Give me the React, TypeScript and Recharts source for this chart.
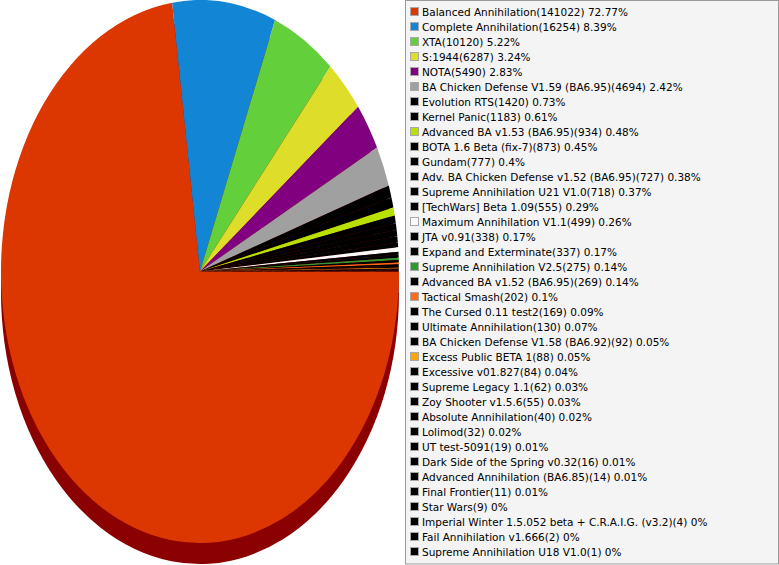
import React from "react";
import { PieChart, Pie, Cell, Legend } from "recharts";

const NAMES = [
  "Balanced Annihilation",
  "Complete Annihilation",
  "XTA",
  "S:1944",
  "NOTA",
  "BA Chicken Defense V1.59 (BA6.95)",
  "Evolution RTS",
  "Kernel Panic",
  "Advanced BA v1.53 (BA6.95)",
  "BOTA 1.6 Beta (fix-7)",
  "Gundam",
  "Adv. BA Chicken Defense v1.52 (BA6.95)",
  "Supreme Annihilation U21 V1.0",
  "[TechWars] Beta 1.09",
  "Maximum Annihilation V1.1",
  "JTA v0.91",
  "Expand and Exterminate",
  "Supreme Annihilation V2.5",
  "Advanced BA v1.52 (BA6.95)",
  "Tactical Smash",
  "The Cursed 0.11 test2",
  "Ultimate Annihilation",
  "BA Chicken Defense V1.58 (BA6.92)",
  "Excess Public BETA 1",
  "Excessive v01.827",
  "Supreme Legacy 1.1",
  "Zoy Shooter v1.5.6",
  "Absolute Annihilation",
  "Lolimod",
  "UT test-5091",
  "Dark Side of the Spring v0.32",
  "Advanced Annihilation (BA6.85)",
  "Final Frontier",
  "Star Wars",
  "Imperial Winter 1.5.052 beta + C.R.A.I.G. (v3.2)",
  "Fail Annihilation v1.666",
  "Supreme Annihilation U18 V1.0",
];

const COUNTS = [
  141022, 16254, 10120, 6287, 5490, 4694, 1420, 1183, 934, 873, 777, 727, 718,
  555, 499, 338, 337, 275, 269, 202, 169, 130, 92, 88, 84, 62, 55, 40, 32, 19,
  16, 14, 11, 9, 4, 2, 1,
];

const PERCENTS = [
  "72.77", "8.39", "5.22", "3.24", "2.83", "2.42", "0.73", "0.61", "0.48",
  "0.45", "0.4", "0.38", "0.37", "0.29", "0.26", "0.17", "0.17", "0.14", "0.14",
  "0.1", "0.09", "0.07", "0.05", "0.05", "0.04", "0.03", "0.03", "0.02", "0.02",
  "0.01", "0.01", "0.01", "0.01", "0", "0", "0", "0",
];

const COLORS = [
  "#DC3700", "#1385D5", "#62CF3B", "#DEDE2A", "#800080", "#A0A0A0", "#000000",
  "#000000", "#B8E000", "#000000", "#000000", "#000000", "#000000", "#000000",
  "#FAFAFA", "#000000", "#000000", "#2E9A2E", "#000000", "#FF6A13", "#000000",
  "#000000", "#000000", "#FFA500", "#000000", "#000000", "#000000", "#000000",
  "#000000", "#000000", "#000000", "#000000", "#000000", "#000000", "#000000",
  "#000000", "#000000",
];

const SHADOW_COLOR = "#8B0000";

const data = NAMES.map((name, i) => ({ name, value: COUNTS[i] }));

const W = 779;
const H = 565;
const CX = 200;
const CY = 271.5;
const RX = 199;
const RY = 271.5;
const SCALE = RY / RX;
const DEPTH = 21;

const LEG_LEFT = 405;
const LEG_W = 374;
const LEG_H = 565;

function LegendBox(props: any) {
  const payload: any[] = props && props.payload ? props.payload : [];
  const seen = new Set<number>();
  payload.forEach((p: any) => {
    const idx = NAMES.indexOf(String(p.value));
    if (idx >= 0) seen.add(idx);
  });
  const order: number[] = seen.size
    ? Array.from(seen).sort((a, b) => a - b)
    : NAMES.map((_, i) => i);
  return (
    <svg width={LEG_W} height={LEG_H} style={{ display: "block" }}>
      <rect
        x={0.5}
        y={0.5}
        width={LEG_W - 1}
        height={LEG_H - 1.5}
        fill="#F4F4F4"
        stroke="#9A9A9A"
        strokeWidth={1}
      />
      {order.map((idx, k) => (
        <g key={idx}>
          <rect
            x={5.5}
            y={7.5 + 15 * k}
            width={8}
            height={8}
            fill={COLORS[idx]}
            stroke="#A8A8A8"
            strokeWidth={1}
          />
          <text
            x={17}
            y={16 + 15 * k}
            fontFamily="'DejaVu Sans', sans-serif"
            fontSize={10.5}
            fill="#000"
          >
            {`${NAMES[idx]}(${COUNTS[idx]}) ${PERCENTS[idx]}%`}
          </text>
        </g>
      ))}
    </svg>
  );
}

export default function App() {
  return (
    <div
      className="ell-chart"
      style={{
        position: "absolute",
        left: 0,
        top: 0,
        width: W,
        height: H,
        overflow: "hidden",
        background: "#ffffff",
      }}
    >
      <style>{`.ell-chart .recharts-wrapper > svg.recharts-surface{transform:scaleY(${SCALE});transform-origin:${CX}px ${CY}px;}`}</style>
      <PieChart width={W} height={H} margin={{ top: 0, right: 0, bottom: 0, left: 0 }}>
        <Pie
          data={data}
          dataKey="value"
          nameKey="name"
          cx={CX}
          cy={CY + DEPTH / SCALE}
          outerRadius={RX}
          startAngle={0}
          endAngle={-360}
          stroke="none"
          legendType="none"
          isAnimationActive={false}
        >
          {data.map((d, i) => (
            <Cell key={`s-${i}`} fill={SHADOW_COLOR} />
          ))}
        </Pie>
        <Pie
          data={data}
          dataKey="value"
          nameKey="name"
          cx={CX}
          cy={CY}
          outerRadius={RX}
          startAngle={0}
          endAngle={-360}
          stroke="none"
          isAnimationActive={false}
        >
          {data.map((d, i) => (
            <Cell key={`c-${i}`} fill={COLORS[i]} />
          ))}
        </Pie>
        <Legend
          content={<LegendBox />}
          layout="vertical"
          align="right"
          verticalAlign="top"
          wrapperStyle={{ left: LEG_LEFT, top: 0, width: LEG_W, height: LEG_H }}
        />
      </PieChart>
    </div>
  );
}
